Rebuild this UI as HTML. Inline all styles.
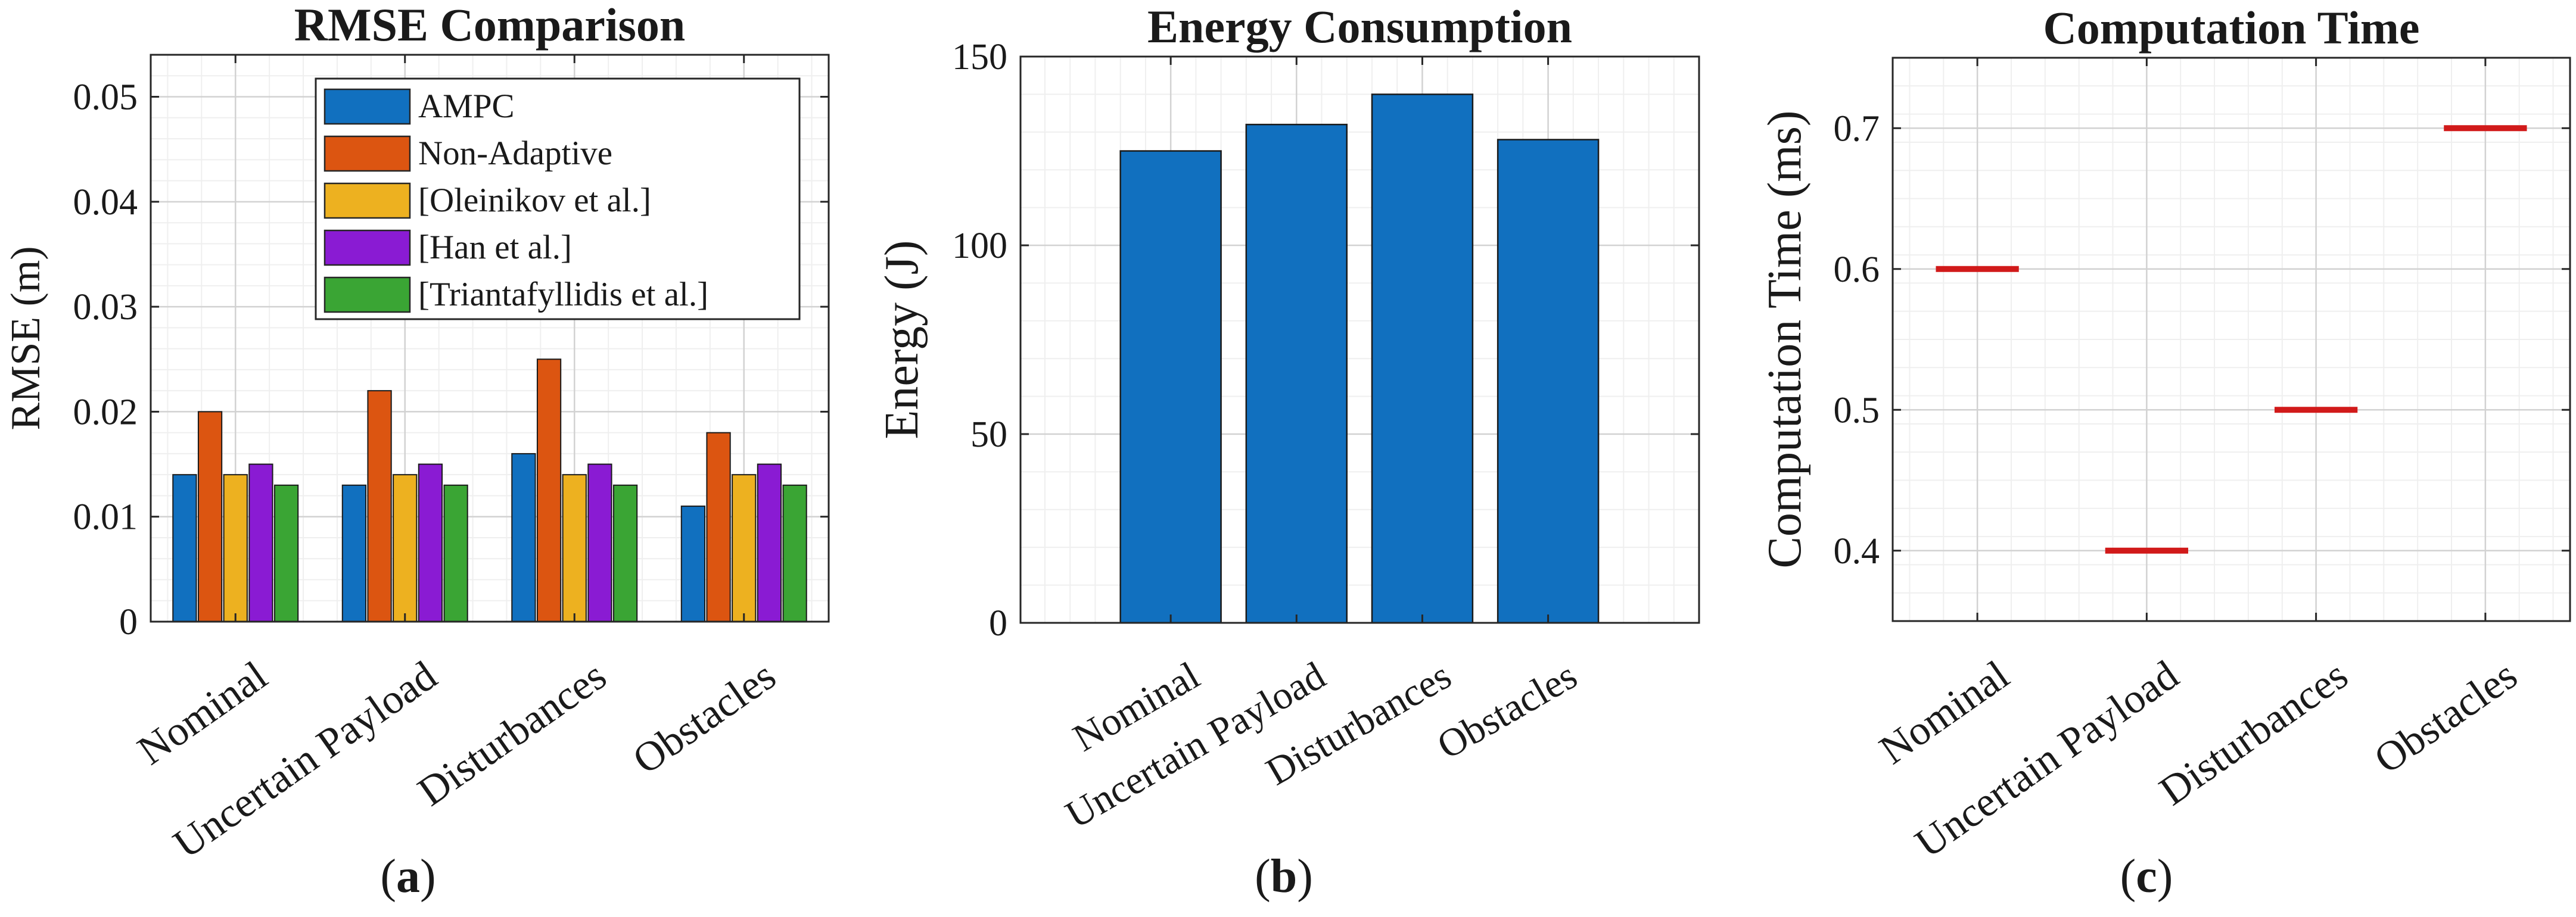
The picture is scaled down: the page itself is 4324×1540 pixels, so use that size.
<!DOCTYPE html>
<html><head><meta charset="utf-8"><style>
html,body{margin:0;padding:0;background:#fff;}
svg text{font-family:"Liberation Serif",serif;fill:#1a1a1a;}
</style></head><body>
<svg id="fig" width="4324" height="1535" viewBox="0 0 4324 1535" xmlns="http://www.w3.org/2000/svg"></svg>
<script>
const categories = ["Nominal","Uncertain Payload","Disturbances","Obstacles"];
const seriesNames = ["AMPC","Non-Adaptive","[Oleinikov et al.]","[Han et al.]","[Triantafyllidis et al.]"];
const seriesColors = ["#1170bf","#dc5511","#edb120","#8a1bd3","#3aa534"];
const rmseAMPC = [0.014,0.013,0.016,0.011];
const rmseNonAdaptive = [0.020,0.022,0.025,0.018];
const rmseOleinikov = [0.014,0.014,0.014,0.014];
const rmseHan = [0.015,0.015,0.015,0.015];
const rmseTriant = [0.013,0.013,0.013,0.013];
const rmseTicks = [0,0.01,0.02,0.03,0.04,0.05];
const rmseTickLabels = ["0","0.01","0.02","0.03","0.04","0.05"];
const energyValues = [125,132,140,128];
const energyTicks = [0,50,100,150];
const timeValues = [0.6,0.4,0.5,0.7];
const timeTicks = [0.4,0.5,0.6,0.7];

const NS="http://www.w3.org/2000/svg";
const svg=document.getElementById('fig');
function el(tag,attrs,parent){const e=document.createElementNS(NS,tag);for(const k in attrs)e.setAttribute(k,attrs[k]);(parent||svg).appendChild(e);return e;}
function txt(s,attrs,parent){const e=el('text',attrs,parent);e.textContent=s;return e;}

function makeAxes(cfg){
  const g=el('g',{});
  
  
  const {L,R,T,B,xmin,xmax,ymin,ymax}=cfg;
  const sx=v=>L+(v-xmin)/(xmax-xmin)*(R-L);
  const sy=v=>B-(v-ymin)/(ymax-ymin)*(B-T);
  el('rect',{x:L,y:T,width:R-L,height:B-T,fill:'#fff'},g);
  for(let v=ymin;v<=ymax+1e-9;v+=cfg.yminor){const y=sy(v);el('line',{x1:L,x2:R,y1:y,y2:y,stroke:'#efefef','stroke-width':2},g);}
  for(let v=Math.ceil(xmin/cfg.xminor)*cfg.xminor;v<=xmax;v+=cfg.xminor){const x=sx(v);el('line',{x1:x,x2:x,y1:T,y2:B,stroke:'#efefef','stroke-width':2},g);}
  cfg.yticks.forEach(v=>{const y=sy(v);el('line',{x1:L,x2:R,y1:y,y2:y,stroke:'#d2d2d2','stroke-width':2.5},g);});
  categories.forEach((c,i)=>{const x=sx(i+1);el('line',{x1:x,x2:x,y1:T,y2:B,stroke:'#d2d2d2','stroke-width':2.5},g);});
  return {g,sx,sy};
}
function finishAxes(a,cfg){
  const {L,R,T,B}=cfg;const g=a.g;
  el('rect',{x:L,y:T,width:R-L,height:B-T,fill:'none',stroke:'#262626','stroke-width':3},g);
  cfg.yticks.forEach((v,i)=>{const y=a.sy(v);
    el('line',{x1:L,x2:L+14,y1:y,y2:y,stroke:'#262626','stroke-width':3},g);
    el('line',{x1:R,x2:R-14,y1:y,y2:y,stroke:'#262626','stroke-width':3},g);
    const t=txt(cfg.ylabels[i],{x:L-22,y:y+21,'text-anchor':'end','font-size':62},g);
    
    
  });
  const ang=cfg.rot, fs=cfg.xfs;
  const rad=ang*Math.PI/180;
  const ox=0.7*fs*Math.sin(rad), oy=0.7*fs*Math.cos(rad);
  categories.forEach((c,i)=>{const x=a.sx(i+1);
    el('line',{x1:x,x2:x,y1:B,y2:B-14,stroke:'#262626','stroke-width':3},g);
    el('line',{x1:x,x2:x,y1:T,y2:T+14,stroke:'#262626','stroke-width':3},g);
    const bx=x+30+ox,by=B+62+oy;
    const t=txt(c,{x:bx,y:by,'text-anchor':'end','font-size':fs,transform:`rotate(${-ang} ${bx} ${by})`},g);
    
    
  });
  const tt=txt(cfg.title,{x:(L+R)/2,y:T-24,'text-anchor':'middle','font-size':78,'font-weight':'bold'},g);
  
  
  const yl=txt(cfg.ytitle,{x:cfg.ytx,y:(T+B)/2,'text-anchor':'middle','font-size':cfg.ytsize,transform:`rotate(-90 ${cfg.ytx} ${(T+B)/2})`},g);
  
  
  const cap=el('text',{x:cfg.capx,y:1498,'text-anchor':'middle','font-size':80},g);
  
  
  const t1=el('tspan',{},cap);t1.textContent='(';
  const t2=el('tspan',{'font-weight':'bold'},cap);t2.textContent=cfg.cap;
  const t3=el('tspan',{},cap);t3.textContent=')';
}

// Panel a
const cfgA={name:'rmse-chart',L:253,R:1391,T:92,B:1044,xmin:0.5,xmax:4.5,ymin:0,ymax:0.054,yminor:0.002,xminor:0.2,
  yticks:rmseTicks,ylabels:rmseTickLabels,title:'RMSE Comparison',ytitle:'RMSE (m)',ytx:66,ytsize:70,rot:35,xfs:70,capx:685,cap:'a'};
const A=makeAxes(cfgA);
const rmseSeries=[rmseAMPC,rmseNonAdaptive,rmseOleinikov,rmseHan,rmseTriant];
const groupW=0.75, slot=groupW/5;
rmseSeries.forEach((vals,s)=>{
  vals.forEach((v,i)=>{
    const xc=i+1-groupW/2+slot*(s+0.5);
    const x0=A.sx(xc-slot*0.46),x1=A.sx(xc+slot*0.46);
    const y=A.sy(v);
    const r=el('rect',{x:x0,y:y,width:x1-x0,height:A.sy(0)-y,fill:seriesColors[s],stroke:'#1a1a1a','stroke-width':2},A.g);
    
    
  });
});
finishAxes(A,cfgA);
const lg=el('g',{});


el('rect',{x:530,y:132,width:812,height:404,fill:'#fff',stroke:'#262626','stroke-width':3},lg);
seriesNames.forEach((n,s)=>{
  const y=150+s*79;
  const e=el('g',{},lg);
  
  
  el('rect',{x:545,y:y,width:143,height:58,fill:seriesColors[s],stroke:'#262626','stroke-width':2.5},e);
  txt(n,{x:702,y:y+47,'font-size':57},e);
});

// Panel b
const cfgB={name:'energy-chart',L:1713,R:2852,T:95,B:1046,xmin:-0.194,xmax:5.2,ymin:0,ymax:150,yminor:10,xminor:0.2,
  yticks:energyTicks,ylabels:energyTicks.map(String),title:'Energy Consumption',ytitle:'Energy (J)',ytx:1540,ytsize:80,rot:30,xfs:66,capx:2155,cap:'b'};
const Bx=makeAxes(cfgB);
energyValues.forEach((v,i)=>{
  const x0=Bx.sx(i+1-0.4),x1=Bx.sx(i+1+0.4),y=Bx.sy(v);
  const r=el('rect',{x:x0,y:y,width:x1-x0,height:Bx.sy(0)-y,fill:'#1170bf',stroke:'#1a1a1a','stroke-width':2.5},Bx.g);
  
  
});
finishAxes(Bx,cfgB);

// Panel c
const cfgC={name:'time-chart',L:3177,R:4314,T:97,B:1043,xmin:0.5,xmax:4.5,ymin:0.35,ymax:0.75,yminor:0.02,xminor:0.2,
  yticks:timeTicks,ylabels:timeTicks.map(v=>v.toFixed(1)),title:'Computation Time',ytitle:'Computation Time (ms)',ytx:3022,ytsize:80,rot:35,xfs:70,capx:3603,cap:'c'};
const C=makeAxes(cfgC);
timeValues.forEach((v,i)=>{
  const y=C.sy(v);
  const l=el('line',{x1:C.sx(i+1-0.245),x2:C.sx(i+1+0.245),y1:y,y2:y,stroke:'#d11a1a','stroke-width':10},C.g);
  
  
});
finishAxes(C,cfgC);
</script>
</body></html>
